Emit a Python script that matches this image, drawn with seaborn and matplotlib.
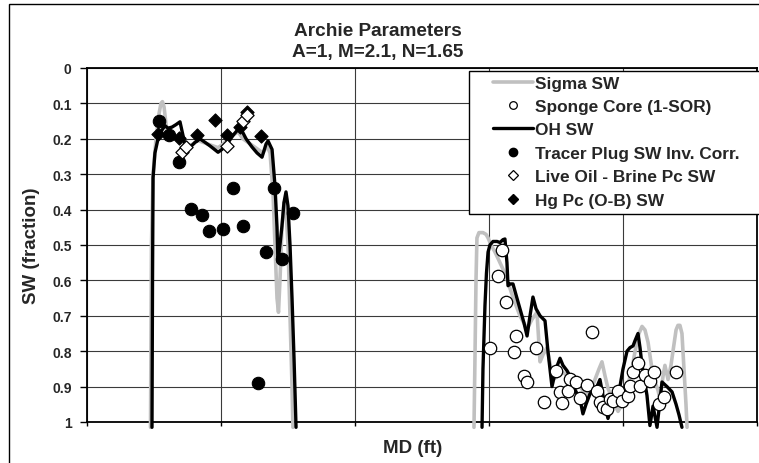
import matplotlib
matplotlib.use("Agg")
import matplotlib.pyplot as plt
from matplotlib.lines import Line2D
from matplotlib.patches import Rectangle
import seaborn as sns
import pandas as pd

# ---------------- data (MD in arbitrary ft units, SW fraction) ----------------
sigma1_md = [47.4, 48.1, 49.3, 51.5, 53.7, 55.2, 56.3, 57.5, 59.0, 61.2, 64.2, 67.9, 71.6, 75.4, 79.1,
             82.8, 86.6, 90.3, 94.0, 97.8, 101.5, 105.2, 109.0, 112.7, 116.4, 120.1, 123.9, 127.6,
             131.3, 134.3, 136.6, 138.8, 140.3, 141.8, 142.9, 144.0, 145.5, 147.0, 148.5, 150.0,
             151.5, 153.0, 153.7]
sigma1_sw = [1.015, 0.5, 0.3, 0.2, 0.13, 0.1, 0.095, 0.11, 0.16, 0.19, 0.19, 0.2, 0.21, 0.22, 0.215,
             0.205, 0.21, 0.215, 0.22, 0.225, 0.215, 0.2, 0.19, 0.18, 0.2, 0.21, 0.22, 0.23,
             0.24, 0.22, 0.24, 0.35, 0.5, 0.65, 0.69, 0.6, 0.45, 0.38, 0.4, 0.5,
             0.7, 0.9, 1.015]

sigma2_md = [288.8, 289.6, 290.3, 291.0, 292.5, 295.5, 297.8, 299.3, 301.5, 304.5, 308.2, 311.9, 317.2,
             320.1, 323.1, 328.4, 332.1, 335.8, 338.1, 340.3, 343.3, 347.8, 351.5, 355.2, 359.0,
             361.9, 367.9, 373.1, 376.1, 379.1, 382.1, 384.3, 386.6, 388.8, 392.5, 396.3, 399.3,
             403.0, 406.7, 409.0, 411.9, 414.2, 416.4, 418.7, 421.6, 423.9, 426.1, 427.6, 429.9,
             431.3, 433.6, 435.8, 437.3, 439.6, 441.0, 442.5, 444.0, 445.5, 447.0, 447.8]
sigma2_sw = [1.015, 0.8, 0.6, 0.48, 0.465, 0.465, 0.47, 0.48, 0.5, 0.52, 0.55, 0.58, 0.64,
             0.67, 0.70, 0.737, 0.71, 0.69, 0.83, 0.81, 0.79, 0.88, 0.87, 0.86, 0.87,
             0.88, 0.9, 0.925, 0.91, 0.88, 0.85, 0.83, 0.87, 0.905, 0.94, 0.97, 0.95,
             0.905, 0.85, 0.8, 0.75, 0.73, 0.74, 0.775, 0.85, 0.887, 0.91, 0.935, 0.87,
             0.84, 0.88, 0.84, 0.80, 0.74, 0.727, 0.727, 0.75, 0.85, 0.95, 1.015]

oh1_md = [48.5, 48.9, 49.3, 50.7, 53.0, 56.0, 58.2, 60.4, 63.4, 66.4, 69.4, 71.6, 73.1, 76.9, 80.6,
          84.3, 88.1, 91.8, 97.8, 100.7, 104.5, 109.0, 114.2, 118.7, 123.1, 126.9, 130.6, 133.6,
          135.1, 138.1, 140.3, 141.8, 142.5, 144.0, 145.5, 147.0, 148.5, 150.0, 151.5, 153.0,
          154.5, 156.0]
oh1_sw = [1.015, 0.6, 0.31, 0.24, 0.2, 0.175, 0.163, 0.17, 0.167, 0.16, 0.152, 0.19, 0.215, 0.224, 0.21,
          0.2, 0.21, 0.22, 0.238, 0.23, 0.215, 0.19, 0.167, 0.2, 0.223, 0.24, 0.252, 0.215,
          0.206, 0.23, 0.333, 0.45, 0.548, 0.5, 0.446, 0.38, 0.35, 0.39, 0.5, 0.65,
          0.82, 1.015]

oh2_md = [294.8, 295.5, 297.0, 298.1, 299.3, 300.7, 303.0, 306.0, 308.2, 310.4, 311.9, 313.4, 314.2,
          315.7, 317.9, 320.1, 323.1, 326.1, 328.4, 330.6, 332.8, 335.1, 338.1, 341.8, 344.0,
          347.0, 350.0, 353.0, 355.2, 358.2, 360.4, 362.7, 365.7, 367.9, 370.1, 372.4, 375.4,
          378.4, 380.6, 382.8, 385.8, 388.8, 390.3, 392.5, 395.5, 397.8, 400.0, 403.0, 405.2,
          407.5, 409.0, 411.2, 412.7, 414.2, 416.4, 417.9, 420.1, 422.4, 425.4, 429.1, 432.8,
          436.6, 439.6, 441.8, 444.0]
oh2_sw = [1.015, 0.85, 0.67, 0.58, 0.52, 0.5, 0.49, 0.49, 0.493, 0.485, 0.483, 0.55, 0.615,
          0.61, 0.61, 0.64, 0.68, 0.72, 0.757, 0.70, 0.647, 0.68, 0.70, 0.714, 0.8,
          0.9, 0.85, 0.82, 0.84, 0.855, 0.87, 0.898, 0.92, 0.935, 0.977, 0.95, 0.92,
          0.91, 0.9, 0.88, 0.94, 0.99, 0.97, 0.955, 0.92, 0.898, 0.85, 0.80, 0.79,
          0.785, 0.77, 0.75, 0.79, 0.84, 0.89, 0.925, 1.01, 0.955, 1.015, 0.887, 0.9,
          0.915, 0.95, 0.98, 1.015]

sponge_md = [309.7, 306.7, 312.7, 300.7, 320.1, 318.7, 335.1, 326.1, 328.4, 376.9, 350.0, 341.0,
             353.0, 354.5, 359.0, 360.4, 364.9, 373.1, 367.9, 380.6, 382.8, 385.1, 388.1, 390.3,
             392.5, 396.3, 399.3, 403.7, 405.2, 407.5, 411.2, 412.7, 416.4, 420.1, 423.1, 426.9,
             430.6, 439.6]
sponge_sw = [0.514, 0.588, 0.661, 0.791, 0.757, 0.802, 0.791, 0.870, 0.887, 0.746, 0.855, 0.944,
             0.915, 0.946, 0.912, 0.878, 0.887, 0.895, 0.932, 0.912, 0.944, 0.958, 0.963, 0.935,
             0.940, 0.912, 0.940, 0.926, 0.898, 0.859, 0.833, 0.898, 0.867, 0.884, 0.859, 0.949,
             0.929, 0.859]

tracer_md = [53.7, 61.2, 68.7, 77.6, 85.8, 91.0, 101.5, 109.0, 116.4, 127.6, 133.6, 139.6, 145.5, 153.7]
tracer_sw = [0.150, 0.189, 0.266, 0.398, 0.415, 0.460, 0.455, 0.339, 0.446, 0.890, 0.520, 0.339, 0.540, 0.410]

liveoil_md = [70.9, 73.9, 104.5, 116.4, 119.4]
liveoil_sw = [0.238, 0.224, 0.220, 0.150, 0.133]

hg_md = [53.0, 68.7, 82.1, 95.5, 104.5, 114.2, 119.4, 129.9]
hg_sw = [0.187, 0.198, 0.189, 0.147, 0.189, 0.167, 0.124, 0.192]

y_ticks = [0, 0.1, 0.2, 0.3, 0.4, 0.5, 0.6, 0.7, 0.8, 0.9, 1]
y_tick_labels = ["0", "0.1", "0.2", "0.3", "0.4", "0.5", "0.6", "0.7", "0.8", "0.9", "1"]
x_ticks = [0, 100, 200, 300, 400, 500]

# ---------------- style ----------------
sns.set_theme(style="white")
plt.rcParams["font.family"] = ["Liberation Sans", "DejaVu Sans"]
plt.rcParams["font.weight"] = "bold"

W, H = 759, 464
fig = plt.figure(figsize=(W / 100, H / 100), dpi=100)
fig.patch.set_facecolor("white")
ax = fig.add_axes([87 / W, 1 - 423 / H, (757 - 87) / W, (423 - 69) / H])
ax.set_facecolor("white")

GREY = "#c0c0c0"
BLACK = "#000000"

for md, sw in [(sigma1_md, sigma1_sw), (sigma2_md, sigma2_sw)]:
    sns.lineplot(x=md, y=sw, ax=ax, sort=False, estimator=None, color=GREY, lw=2.6,
                 clip_on=False, zorder=3)
for md, sw in [(oh1_md, oh1_sw), (oh2_md, oh2_sw)]:
    sns.lineplot(x=md, y=sw, ax=ax, sort=False, estimator=None, color=BLACK, lw=2.4,
                 clip_on=False, zorder=4)

sns.scatterplot(x=tracer_md, y=tracer_sw, ax=ax, marker="o", s=80, color="black",
                edgecolor="black", linewidth=0.8, zorder=5)
sns.scatterplot(x=hg_md, y=hg_sw, ax=ax, marker="D", s=45, color="black",
                edgecolor="black", linewidth=0.8, zorder=6)
sns.scatterplot(x=liveoil_md, y=liveoil_sw, ax=ax, marker="D", s=45, color="white",
                edgecolor="black", linewidth=0.9, zorder=7)
sns.scatterplot(x=sponge_md, y=sponge_sw, ax=ax, marker="o", s=80, color="white",
                edgecolor="black", linewidth=0.9, zorder=8)

ax.set_xlim(0, 500)
ax.set_ylim(1, 0)
ax.set_xticks(x_ticks)
ax.set_xticklabels([])
ax.set_yticks(y_ticks)
ax.set_yticklabels(y_tick_labels, fontsize=10, fontweight="bold")
ax.tick_params(axis="y", direction="out", length=5, width=1, color="black", pad=6, left=True)
ax.tick_params(axis="x", direction="out", length=3, width=1, color="black", bottom=True)
ax.grid(True, color="#3a3a3a", lw=0.8)
ax.set_axisbelow(True)
for sp in ax.spines.values():
    sp.set_color("black")
    sp.set_linewidth(1.3)
ax.set_xlabel("")
ax.set_ylabel("")

# titles and labels
fig.text(378 / W, 1 - 36 / H, "Archie Parameters", ha="center", va="baseline",
         fontsize=13.7, fontweight="bold")
fig.text(378 / W, 1 - 57 / H, "A=1, M=2.1, N=1.65", ha="center", va="baseline",
         fontsize=13.7, fontweight="bold")
fig.text(413 / W, 1 - 453 / H, "MD (ft)", ha="center", va="baseline",
         fontsize=13.5, fontweight="bold")
fig.text(31 / W, 1 - 246 / H, "SW (fraction)", ha="center", va="center", rotation=90,
         fontsize=13.5, fontweight="bold")

# outer chart border
fig.patches.append(Rectangle((9 / W, -0.05), 1.0, 1 - 5 / H + 0.05, transform=fig.transFigure,
                             fill=False, edgecolor="black", lw=1.0))

# legend box
box = Rectangle((469 / W, 1 - 215 / H), (770 - 469) / W, (215 - 72) / H,
                transform=fig.transFigure, facecolor="white", edgecolor="black", lw=1.0,
                clip_on=False, zorder=20)
ax.add_artist(box)

handles = [
    Line2D([], [], color=GREY, lw=2.6),
    Line2D([], [], ls="none", marker="o", markersize=5.5, mfc="white", mec="black", mew=0.9),
    Line2D([], [], color=BLACK, lw=2.4),
    Line2D([], [], ls="none", marker="o", markersize=6, mfc="black", mec="black"),
    Line2D([], [], ls="none", marker="D", markersize=5, mfc="white", mec="black", mew=0.9),
    Line2D([], [], ls="none", marker="D", markersize=5, mfc="black", mec="black"),
]
labels = ["Sigma SW", "Sponge Core (1-SOR)", "OH SW", "Tracer Plug SW Inv. Corr.",
          "Live Oil - Brine Pc SW", "Hg Pc (O-B) SW"]
leg = ax.legend(handles, labels, loc="upper left", bbox_to_anchor=(493 / W, 1 - 76.5 / H),
                bbox_transform=fig.transFigure, frameon=False, borderpad=0, borderaxespad=0,
                handlelength=2.3, handletextpad=0.12, labelspacing=0.485,
                prop={"family": "Liberation Sans", "weight": "bold", "size": 12.4})
leg.set_zorder(21)

fig.savefig("out.png", dpi=100, facecolor="white")
